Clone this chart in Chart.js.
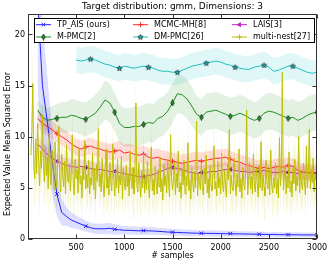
<!DOCTYPE html>
<html>
<head>
<meta charset="utf-8">
<script src="https://cdn.jsdelivr.net/npm/chart.js@4.4.1/dist/chart.umd.min.js"></script>
<style>
  html, body { margin: 0; padding: 0; background: #fff; }
</style>
</head>
<body>
<canvas id="chart" width="332" height="265"></canvas>
<script>
// smooth series sampled every 50 samples from 100 to 3000
const xStart = 100;
const xStep = 50;

const tpAis = [23.5, 15.0, 11.5, 7.6, 4.4, 2.6, 2.2, 1.85, 1.65, 1.45,
  1.25, 1.1, 1.0, 1.0, 1.0, 1.05, 0.95, 0.9, 0.85, 0.85,
  0.82, 0.8, 0.82, 0.8, 0.78, 0.75, 0.72, 0.68, 0.66, 0.64,
  0.62, 0.6, 0.58, 0.57, 0.56, 0.55, 0.55, 0.54, 0.53, 0.52,
  0.52, 0.5, 0.5, 0.49, 0.48, 0.47, 0.46, 0.45, 0.44, 0.44,
  0.43, 0.42, 0.42, 0.41, 0.41, 0.4, 0.4, 0.4, 0.39];
const tpAisSd = [9, 6, 4.5, 3.2, 2.2, 1.3, 0.9, 0.75, 0.65, 0.6,
  0.55, 0.5, 0.5, 0.5, 0.55, 0.55, 0.5, 0.45, 0.42, 0.4,
  0.4, 0.4, 0.4, 0.38, 0.36, 0.35, 0.35, 0.34, 0.33, 0.33,
  0.32, 0.32, 0.31, 0.3, 0.3, 0.3, 0.3, 0.29, 0.29, 0.28,
  0.28, 0.28, 0.27, 0.27, 0.27, 0.26, 0.26, 0.26, 0.25, 0.25,
  0.25, 0.25, 0.24, 0.24, 0.24, 0.24, 0.23, 0.23, 0.23];

const mcmcMh = [11.8, 11.3, 11.0, 10.7, 10.3, 10.0, 9.7, 9.3, 9.0, 8.8,
  9.0, 9.1, 8.9, 8.8, 8.6, 8.5, 8.6, 8.7, 8.4, 8.5,
  8.3, 8.2, 8.3, 8.0, 7.9, 8.0, 7.8, 7.7, 7.6, 7.5,
  7.4, 7.5, 7.6, 7.7, 7.6, 7.7, 7.8, 7.9, 7.9, 8.0,
  7.8, 7.6, 7.5, 7.3, 7.2, 7.0, 6.9, 7.0, 6.9, 7.0,
  7.1, 7.0, 7.2, 7.1, 6.7, 6.6, 6.5, 6.5, 6.5];
const mcmcMhSd = [0.9, 0.9, 0.9, 0.9, 0.85, 0.85, 0.85, 0.8, 0.8, 0.8,
  0.8, 0.8, 0.8, 0.8, 0.8, 0.8, 0.85, 0.85, 0.85, 0.85,
  0.85, 0.85, 0.85, 0.85, 0.85, 0.85, 0.85, 0.85, 0.85, 0.85,
  0.85, 0.85, 0.85, 0.85, 0.85, 0.85, 0.85, 0.85, 0.85, 0.85,
  0.8, 0.8, 0.8, 0.8, 0.8, 0.8, 0.8, 0.8, 0.8, 0.8,
  0.8, 0.8, 0.8, 0.8, 0.8, 0.8, 0.8, 0.8, 0.8];

const lais = [9.3, 8.8, 8.3, 7.9, 7.6, 7.4, 7.2, 7.1, 7.0, 7.1,
  7.0, 6.9, 6.8, 6.8, 6.7, 6.6, 6.6, 6.5, 6.4, 6.3,
  6.2, 6.1, 6.1, 6.2, 6.3, 6.5, 6.7, 6.9, 7.0, 6.9,
  6.8, 6.6, 6.5, 6.4, 6.5, 6.5, 6.6, 6.6, 6.7, 6.8,
  6.8, 6.7, 6.6, 6.6, 6.5, 6.6, 6.6, 6.7, 6.6, 6.5,
  6.5, 6.6, 6.5, 6.5, 6.4, 6.5, 6.5, 6.4, 6.4];
const laisSd = [0.75, 0.75, 0.7, 0.7, 0.7, 0.7, 0.7, 0.7, 0.7, 0.7,
  0.7, 0.7, 0.7, 0.7, 0.7, 0.7, 0.7, 0.7, 0.7, 0.7,
  0.7, 0.7, 0.7, 0.7, 0.7, 0.7, 0.7, 0.7, 0.7, 0.7,
  0.7, 0.7, 0.7, 0.7, 0.7, 0.7, 0.7, 0.7, 0.7, 0.7,
  0.7, 0.7, 0.7, 0.7, 0.7, 0.7, 0.7, 0.7, 0.7, 0.7,
  0.7, 0.7, 0.7, 0.7, 0.7, 0.7, 0.7, 0.7, 0.7];

const mPmc = [12.6, 11.9, 11.6, 11.7, 11.8, 11.9, 11.9, 12.1, 12.0, 11.8,
  11.7, 12.0, 12.3, 12.9, 13.6, 13.3, 12.4, 11.3, 10.9, 10.9,
  11.0, 11.0, 11.2, 11.4, 11.3, 11.8, 12.0, 12.5, 13.3, 14.2,
  14.1, 13.7, 13.0, 12.2, 11.9, 12.4, 12.5, 12.6, 12.4, 12.2,
  12.0, 12.1, 12.3, 12.1, 11.8, 11.6, 11.8, 12.3, 12.5, 12.4,
  12.2, 12.0, 11.8, 11.9, 11.6, 11.8, 12.1, 12.3, 12.4];
const mPmcSd = [1.0, 1.1, 1.2, 1.3, 1.4, 1.5, 1.5, 1.6, 1.6, 1.6,
  1.7, 1.7, 1.8, 1.8, 1.9, 1.9, 1.9, 1.9, 1.9, 1.9,
  1.9, 1.9, 1.9, 1.9, 1.9, 1.9, 1.9, 1.9, 1.9, 1.9,
  1.9, 1.9, 1.9, 1.8, 1.8, 1.8, 1.8, 1.8, 1.8, 1.8,
  1.8, 1.8, 1.8, 1.8, 1.8, 1.8, 1.8, 1.8, 1.8, 1.8,
  1.8, 1.8, 1.8, 1.8, 1.8, 1.8, 1.8, 1.8, 1.8];

// DM-PMC starts at 500 samples
const dmStart = 500;
const dmPmc = [17.5, 17.4, 17.5, 17.6, 17.5, 17.3, 17.1, 17.0, 16.8, 16.7,
  16.9, 16.8, 16.7, 16.8, 16.9, 16.8, 16.7, 16.5, 16.4, 16.4,
  16.3, 16.3, 16.5, 16.7, 16.9, 17.0, 17.1, 17.2, 17.3, 17.4,
  17.3, 17.1, 17.0, 16.8, 16.7, 16.6, 16.6, 16.8, 16.9, 17.0,
  16.8, 16.4, 16.5, 16.7, 16.9, 16.9, 16.7, 16.5, 16.3, 16.2, 16.3];
const dmPmcSd = [1.3, 1.3, 1.3, 1.3, 1.3, 1.3, 1.3, 1.3, 1.3, 1.3,
  1.3, 1.3, 1.3, 1.3, 1.3, 1.3, 1.3, 1.3, 1.3, 1.3,
  1.3, 1.3, 1.3, 1.3, 1.3, 1.3, 1.3, 1.3, 1.3, 1.3,
  1.3, 1.3, 1.3, 1.3, 1.3, 1.3, 1.3, 1.3, 1.3, 1.3,
  1.3, 1.3, 1.3, 1.3, 1.3, 1.3, 1.3, 1.3, 1.3, 1.3, 1.3];

// multi-nest, every 10 samples from 30 to 3000
const mnStart = 30;
const mnStep = 10;
const multiNest = [
  8.2, 10.5, 15.2, 7.1, 5.9, 9.8, 6.4, 11.3, 7.7, 5.2, 8.6, 6.9, 12.1, 7.4, 5.6, 9.1, 6.2, 8.0, 4.9, 10.4,
  6.8, 5.3, 8.7, 7.2, 4.8, 9.5, 6.1, 5.0, 7.9, 11.0, 5.7, 4.6, 8.3, 6.4, 5.1, 7.6, 4.4, 9.2, 6.0, 5.5,
  7.4, 4.7, 6.6, 10.2, 5.2, 4.3, 7.8, 5.9, 6.8, 4.5, 8.9, 5.4, 6.2, 4.0, 7.1, 5.8, 9.6, 4.9, 6.3, 5.0,
  7.7, 4.4, 6.0, 5.3, 8.4, 4.8, 6.9, 3.9, 7.3, 5.6, 10.8, 5.1, 6.4, 4.6, 7.9, 5.2, 4.1, 6.7, 8.8, 5.0,
  6.1, 4.3, 7.5, 5.5, 4.7, 9.3, 5.9, 4.2, 6.6, 5.0, 7.8, 4.5, 6.2, 5.3, 8.1, 3.9, 6.9, 5.4, 4.8, 7.2,
  5.1, 6.4, 4.2, 8.6, 5.7, 4.9, 7.0, 4.4, 5.9, 13.3, 5.2, 4.6, 7.4, 5.5, 4.1, 6.7, 5.0, 8.3, 4.5, 6.1,
  4.8, 7.6, 5.3, 4.0, 6.5, 9.0, 4.7, 5.8, 4.3, 7.1, 5.6, 4.4, 6.8, 5.1, 8.0, 4.6, 5.9, 3.8, 7.3, 5.2,
  6.2, 4.5, 7.8, 5.4, 4.1, 10.2, 6.0, 4.8, 5.7, 7.5, 4.3, 6.4, 5.0, 8.6, 4.6, 5.5, 4.0, 6.9, 5.3, 7.7,
  4.4, 6.1, 5.2, 9.4, 4.7, 5.8, 3.9, 7.0, 5.5, 4.6, 6.6, 5.0, 11.5, 4.2, 6.3, 5.6, 4.8, 7.4, 5.1, 4.3,
  6.9, 5.4, 8.2, 4.5, 5.9, 4.0, 7.2, 5.3, 4.7, 6.5, 9.1, 4.9, 5.6, 4.2, 7.6, 5.0, 6.0, 4.4, 8.4, 5.2,
  4.6, 6.7, 5.3, 4.1, 7.3, 5.8, 10.7, 4.4, 6.2, 5.0, 4.7, 7.9, 5.5, 4.2, 6.4, 5.1, 8.8, 4.6, 5.9, 4.0,
  7.0, 5.4, 4.8, 6.6, 12.6, 4.3, 5.7, 7.5, 4.9, 6.1, 4.4, 8.3, 5.2, 4.6, 6.9, 5.5, 4.1, 7.2, 5.0, 9.5,
  4.7, 6.3, 5.1, 4.2, 7.7, 5.6, 4.9, 6.8, 4.3, 8.7, 5.3, 4.5, 6.0, 5.0, 7.4, 4.4, 5.8, 4.0, 9.9, 5.2,
  6.5, 16.3, 4.8, 5.9, 7.1, 4.4, 6.2, 5.0, 8.5, 4.6, 5.7, 4.1, 6.9, 5.4, 7.8, 4.7, 6.1, 5.2, 10.0, 4.5,
  6.6, 5.3, 4.8, 7.4, 5.6, 4.3, 9.1, 5.0, 6.3, 10.7, 4.9, 6.8, 5.5, 7.9, 4.6, 6.4, 5.8, 7.1];
// spread per 100-sample block (index = floor(x / 100))
const multiNestSd = [3.0, 3.0, 2.8, 2.6, 2.5, 2.4, 2.4, 2.3, 2.3, 2.3,
  2.4, 2.4, 2.3, 2.3, 2.2, 2.3, 2.4, 2.3, 2.2, 2.2,
  2.3, 2.4, 2.3, 2.2, 2.3, 2.4, 2.5, 2.4, 2.3, 2.3, 2.3];

const seriesNames = ["TP_AIS (ours)", "MCMC-MH[8]", "LAIS[3]", "M-PMC[2]", "DM-PMC[26]", "multi-nest[27]"];
const xTicks = [500, 1000, 1500, 2000, 2500, 3000];
const yTicks = [0, 5, 10, 15, 20];

const colors = {
  blue: "#2020ff", red: "#ff2a2a", magenta: "#c020c0",
  green: "#1f8f1f", cyan: "#20c0c0", yellow: "#bfbf00"
};

function toPoints(vals, start, step) {
  return vals.map((v, i) => ({ x: start + i * step, y: v }));
}

function bandPoints(vals, sd, start, step, sign) {
  return vals.map((v, i) => ({ x: start + i * step, y: v + sign * sd[i] }));
}

function mnBand(sign) {
  return multiNest.map((v, i) => {
    const x = mnStart + i * mnStep;
    return { x: x, y: v + sign * multiNestSd[Math.floor(x / 100)] };
  });
}

function starImg(fill) {
  const c = document.createElement("canvas");
  c.width = 7; c.height = 7;
  const g = c.getContext("2d");
  g.beginPath();
  for (let i = 0; i < 10; i++) {
    const r = i % 2 ? 1.2 : 2.8;
    const a = -Math.PI / 2 + i * Math.PI / 5;
    g.lineTo(3.5 + r * Math.cos(a), 3.7 + r * Math.sin(a));
  }
  g.closePath();
  g.fillStyle = fill; g.fill();
  g.strokeStyle = "#000"; g.lineWidth = 0.6; g.stroke();
  return c;
}

function diamondImg(fill) {
  const c = document.createElement("canvas");
  c.width = 5; c.height = 7;
  const g = c.getContext("2d");
  g.beginPath();
  g.moveTo(2.5, 0.5); g.lineTo(4.3, 3.5); g.lineTo(2.5, 6.5); g.lineTo(0.7, 3.5);
  g.closePath();
  g.fillStyle = fill; g.fill();
  g.strokeStyle = "#000"; g.lineWidth = 0.6; g.stroke();
  return c;
}

const star = starImg(colors.cyan);
const diamond = diamondImg(colors.green);

function markEvery(offset, r) {
  return ctx => (ctx.raw && (ctx.raw.x - offset) % 300 === 0 ? r : 0);
}

function band(lo, hi, color) {
  return [
    { data: lo, borderWidth: 0, pointRadius: 0, fill: false, order: 10, borderColor: "transparent" },
    { data: hi, borderWidth: 0, pointRadius: 0, fill: "-1", backgroundColor: color, order: 10, borderColor: "transparent" }
  ];
}

function line(name, data, color, extra) {
  return Object.assign({
    label: name, data: data, borderColor: color, borderWidth: 1,
    fill: false, tension: 0, order: 1,
    pointBorderColor: color, pointBackgroundColor: color, pointBorderWidth: 1
  }, extra);
}

const datasets = [].concat(
  band(bandPoints(tpAis, tpAisSd, xStart, xStep, -1), bandPoints(tpAis, tpAisSd, xStart, xStep, 1), "rgba(0,0,255,0.13)"),
  band(bandPoints(mcmcMh, mcmcMhSd, xStart, xStep, -1), bandPoints(mcmcMh, mcmcMhSd, xStart, xStep, 1), "rgba(255,0,0,0.13)"),
  band(bandPoints(lais, laisSd, xStart, xStep, -1), bandPoints(lais, laisSd, xStart, xStep, 1), "rgba(191,0,191,0.12)"),
  band(bandPoints(mPmc, mPmcSd, xStart, xStep, -1), bandPoints(mPmc, mPmcSd, xStart, xStep, 1), "rgba(0,128,0,0.11)"),
  band(bandPoints(dmPmc, dmPmcSd, dmStart, xStep, -1), bandPoints(dmPmc, dmPmcSd, dmStart, xStep, 1), "rgba(0,191,191,0.12)"),
  band(mnBand(-1), mnBand(1), "rgba(191,191,0,0.16)"),
  [
    line(seriesNames[0], toPoints(tpAis, xStart, xStep), colors.blue, { pointStyle: "crossRot", pointRadius: markEvery(0, 2.5), order: 2 }),
    line(seriesNames[1], toPoints(mcmcMh, xStart, xStep), colors.red, { pointStyle: "cross", pointRadius: markEvery(0, 2.5), order: 2 }),
    line(seriesNames[2], toPoints(lais, xStart, xStep), colors.magenta, { pointStyle: "triangle", pointRotation: -90, pointRadius: markEvery(0, 2.2), pointBorderColor: "#000", pointBorderWidth: 0.5, order: 2 }),
    line(seriesNames[3], toPoints(mPmc, xStart, xStep), colors.green, { pointStyle: diamond, pointRadius: markEvery(0, 3), order: 2 }),
    line(seriesNames[4], toPoints(dmPmc, dmStart, xStep), colors.cyan, { pointStyle: star, pointRadius: markEvery(50, 3), order: 2 }),
    line(seriesNames[5], toPoints(multiNest, mnStart, mnStep), colors.yellow, { pointRadius: 0, order: 1 })
  ]
);

const legendItems = [
  { name: seriesNames[0], color: colors.blue, style: "crossRot", col: 0, row: 0 },
  { name: seriesNames[1], color: colors.red, style: "cross", col: 1, row: 0 },
  { name: seriesNames[2], color: colors.magenta, style: "triangle", rot: -90, col: 2, row: 0 },
  { name: seriesNames[3], color: colors.green, style: diamond, col: 0, row: 1 },
  { name: seriesNames[4], color: colors.cyan, style: star, col: 1, row: 1 },
  { name: seriesNames[5], color: colors.yellow, style: "cross", col: 2, row: 1 }
];

const decorPlugin = {
  id: "decor",
  afterDraw(chart) {
    const { ctx, chartArea: a, scales } = chart;
    const L = Math.round(a.left) + 0.5, R = Math.round(a.right) - 0.5;
    const T = Math.round(a.top) + 0.5, B = Math.round(a.bottom) - 0.5;
    ctx.save();
    ctx.strokeStyle = "#333";
    ctx.lineWidth = 1;
    ctx.strokeRect(L, T, R - L, B - T);
    ctx.beginPath();
    xTicks.forEach(v => {
      const px = Math.round(scales.x.getPixelForValue(v)) + 0.5;
      ctx.moveTo(px, B); ctx.lineTo(px, B - 4);
      ctx.moveTo(px, T); ctx.lineTo(px, T + 4);
    });
    yTicks.forEach(v => {
      const py = Math.round(scales.y.getPixelForValue(v)) + 0.5;
      ctx.moveTo(L, py); ctx.lineTo(L + 4, py);
      ctx.moveTo(R, py); ctx.lineTo(R - 4, py);
    });
    ctx.stroke();

    // title and axis titles
    ctx.fillStyle = "#000";
    ctx.textAlign = "center";
    ctx.textBaseline = "middle";
    ctx.font = "9px 'DejaVu Sans'";
    ctx.fillText("Target distribution: gmm, Dimensions: 3", (a.left + a.right) / 2, 6.5);
    ctx.font = "8px 'DejaVu Sans'";
    ctx.fillText("# samples", (a.left + a.right) / 2, 256);
    ctx.save();
    ctx.translate(8, 144);
    ctx.rotate(-Math.PI / 2);
    ctx.fillText("Expected Value Mean Squared Error", 0, 0);
    ctx.restore();

    // legend box
    const bx = 34.5, by = 18.5, bw = 280, bh = 24;
    ctx.fillStyle = "#fff";
    ctx.fillRect(bx, by, bw, bh);
    ctx.strokeStyle = "#000";
    ctx.strokeRect(bx, by, bw, bh);
    const colX = [36, 133, 232];
    const rowY = [24.7, 37];
    ctx.textAlign = "left";
    legendItems.forEach(it => {
      const x0 = colX[it.col], y0 = rowY[it.row];
      ctx.strokeStyle = it.color;
      ctx.lineWidth = 1;
      ctx.beginPath();
      ctx.moveTo(x0, y0); ctx.lineTo(x0 + 15, y0);
      ctx.stroke();
      ctx.fillStyle = it.color;
      Chart.helpers.drawPoint(ctx, {
        pointStyle: it.style, radius: it.style === "triangle" ? 2.2 : 2.5,
        rotation: it.rot || 0, borderWidth: 1
      }, x0 + 7.5, y0);
      ctx.fillStyle = "#000";
      ctx.fillText(it.name, x0 + 21, y0);
    });
    ctx.restore();
  }
};

Chart.defaults.font.family = "'DejaVu Sans'";
Chart.defaults.font.size = 8;
Chart.defaults.color = "#000";

new Chart(document.getElementById("chart"), {
  type: "line",
  data: { datasets: datasets },
  options: {
    responsive: false,
    animation: false,
    layout: { padding: { left: 0, right: 15, top: 14, bottom: 0 } },
    plugins: { legend: { display: false }, tooltip: { enabled: false }, title: { display: false } },
    scales: {
      x: {
        type: "linear", min: 0, max: 3000,
        grid: { display: false, drawTicks: false }, border: { display: false },
        afterBuildTicks: s => { s.ticks = xTicks.map(v => ({ value: v })); },
        afterFit: s => { s.height = 26; },
        ticks: { padding: 4, maxRotation: 0, callback: v => String(v) }
      },
      y: {
        min: 0, max: 22,
        grid: { display: false, drawTicks: false }, border: { display: false },
        afterBuildTicks: s => { s.ticks = yTicks.map(v => ({ value: v })); },
        afterFit: s => { s.width = 28; },
        ticks: { padding: 3, callback: v => String(v) }
      }
    }
  },
  plugins: [decorPlugin]
});
</script>
</body>
</html>
